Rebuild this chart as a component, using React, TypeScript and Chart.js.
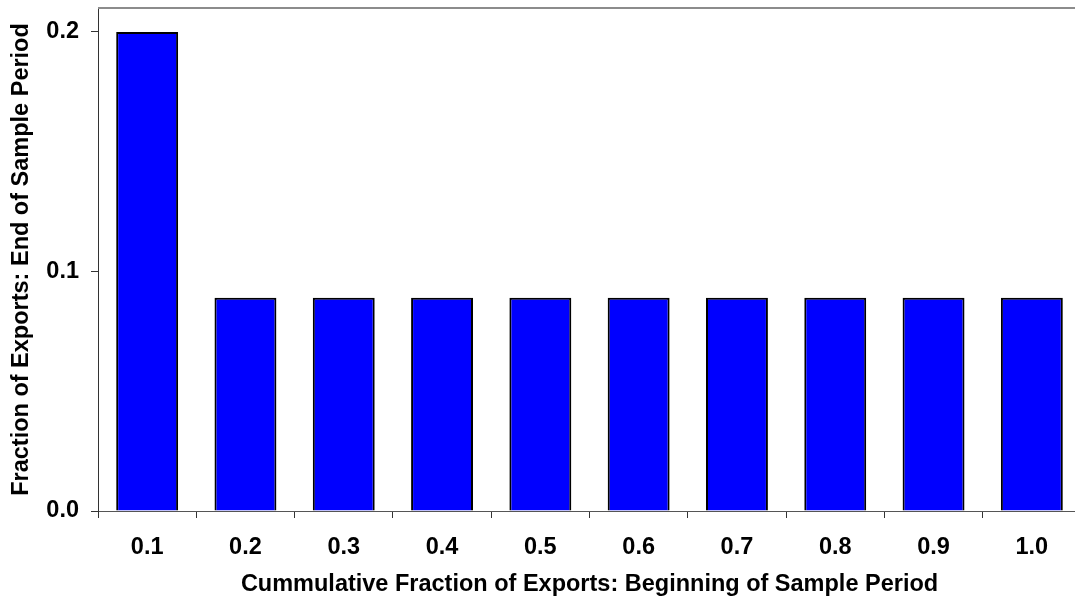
import React, { useEffect, useRef } from "react";
import { Chart, registerables } from "chart.js";

Chart.register(...registerables);

const categories = ["0.1", "0.2", "0.3", "0.4", "0.5", "0.6", "0.7", "0.8", "0.9", "1.0"];
const values = [0.2, 0.089, 0.089, 0.089, 0.089, 0.089, 0.089, 0.089, 0.089, 0.089];
const yTicks = [0, 0.1, 0.2];
const xTitle = "Cummulative Fraction of Exports: Beginning of Sample Period";
const yTitle = "Fraction of Exports: End of Sample Period";

const FONT = "'Liberation Sans', Arial, sans-serif";
const FS = 23.5;

const topLine = {
  id: "topLine",
  afterDraw(chart: any) {
    const { ctx, chartArea } = chart;
    ctx.save();
    ctx.strokeStyle = "#8c8c8c";
    ctx.lineWidth = 2;
    ctx.beginPath();
    ctx.moveTo(chartArea.left, chartArea.top);
    ctx.lineTo(chartArea.right + 20, chartArea.top);
    ctx.stroke();
    ctx.restore();
  },
};

export default function App() {
  const ref = useRef<HTMLCanvasElement>(null);
  useEffect(() => {
    document.body.style.margin = "0";
    document.body.style.overflow = "hidden";
    const chart = new Chart(ref.current!, {
      type: "bar",
      data: {
        labels: categories,
        datasets: [
          {
            data: values,
            backgroundColor: "#0000ff",
            borderColor: "#000000",
            borderWidth: 2,
            categoryPercentage: 0.63,
            barPercentage: 1,
          },
        ],
      },
      options: {
        animation: false,
        responsive: false,
        devicePixelRatio: 1,
        layout: { padding: { top: 8, right: 9, left: 0, bottom: 0 } },
        plugins: { legend: { display: false }, tooltip: { enabled: false } },
        scales: {
          x: {
            offset: true,
            grid: { display: true, offset: true, drawOnChartArea: false, tickLength: 7, color: "#333", lineWidth: 1 },
            border: { display: true, color: "#555", width: 1 },
            ticks: { color: "#000", font: { family: FONT, size: FS, weight: "bold" }, padding: 15 },
            title: { display: true, text: xTitle, color: "#000", font: { family: FONT, size: FS, weight: "bold" }, padding: { top: 0, bottom: 3 } },
            afterFit(scale: any) { scale.height = 91; scale.paddingLeft = 0; scale.paddingRight = 0; },
          },
          y: {
            min: 0,
            max: 0.21,
            afterBuildTicks(scale: any) { scale.ticks = yTicks.map((v) => ({ value: v })); },
            grid: { display: true, drawOnChartArea: false, tickLength: 7, color: "#333" },
            border: { display: true, color: "#333", width: 1 },
            ticks: {
              color: "#000",
              padding: 12,
              font: { family: FONT, size: FS, weight: "bold" },
              callback: (v: any) => Number(v).toFixed(1),
            },
            title: { display: true, text: yTitle, color: "#000", font: { family: FONT, size: FS, weight: "bold" }, padding: { top: 7, bottom: 0 } },
            afterFit(scale: any) { scale.width = 98; scale.paddingTop = 0; scale.paddingBottom = 0; },
          },
        },
      },
      plugins: [topLine],
    });
    return () => chart.destroy();
  }, []);
  return (
    <div style={{ position: "absolute", left: 0, top: 0, width: 1090, height: 602, background: "#fff" }}>
      <canvas ref={ref} width={1090} height={602} style={{ width: 1090, height: 602 }} />
    </div>
  );
}
